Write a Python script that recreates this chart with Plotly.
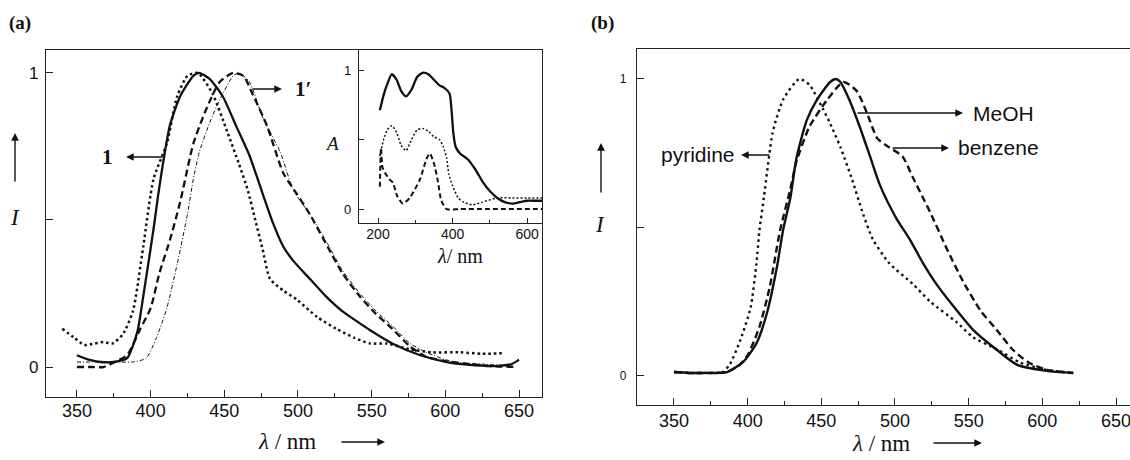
import plotly.graph_objects as go

# ---- panel (a): emission spectra, 1 and 1' ----
a_dot_x = [340, 348, 355, 362, 368, 374, 381, 388, 395, 402, 411, 418, 425, 432, 442, 452, 460, 466, 471, 476, 481, 490, 499, 513, 526, 538, 549, 560, 576, 591, 610, 625, 640]
a_dot_y = [0.13, 0.10, 0.075, 0.08, 0.085, 0.08, 0.11, 0.19, 0.41, 0.64, 0.76, 0.92, 0.99, 1.0, 0.93, 0.80, 0.69, 0.60, 0.50, 0.40, 0.30, 0.26, 0.23, 0.17, 0.13, 0.10, 0.08, 0.08, 0.06, 0.05, 0.05, 0.045, 0.047]

a_solid_x = [350, 358, 366, 375, 384, 391, 395, 402, 405, 408, 413, 420, 429, 433, 440, 449, 458, 467, 476, 483, 490, 497, 508, 519, 530, 540, 549, 564, 583, 601, 615, 632, 645, 650]
a_solid_y = [0.04, 0.025, 0.017, 0.017, 0.03, 0.12, 0.24, 0.47, 0.58, 0.68, 0.82, 0.92, 0.99, 1.0, 0.98, 0.92, 0.82, 0.72, 0.59, 0.49, 0.41, 0.36, 0.30, 0.24, 0.19, 0.155, 0.125, 0.08, 0.04, 0.017, 0.008, 0.003, 0.01, 0.025]

a_dash_x = [350, 360, 368, 377, 384, 393, 400, 406, 413, 420, 429, 438, 447, 456, 463, 469, 479, 490, 499, 508, 520, 530, 542, 553, 564, 576, 587, 600, 610, 632, 648]
a_dash_y = [0.0, 0.0, 0.0, 0.02, 0.04, 0.13, 0.20, 0.32, 0.43, 0.56, 0.76, 0.88, 0.97, 1.0, 0.99, 0.93, 0.82, 0.66, 0.59, 0.52, 0.41, 0.32, 0.24, 0.18, 0.13, 0.07, 0.035, 0.02, 0.013, 0.003, 0.0]

a_thin_x = [350, 360, 370, 380, 388, 397, 404, 411, 418, 425, 429, 433, 440, 447, 456, 460, 467, 476, 488, 497, 508, 520, 530, 542, 553, 564, 576, 587, 600, 610, 625, 640]
a_thin_y = [0.017, 0.017, 0.017, 0.017, 0.017, 0.03, 0.10, 0.20, 0.35, 0.52, 0.64, 0.73, 0.83, 0.91, 0.99, 1.0, 0.97, 0.85, 0.73, 0.60, 0.52, 0.42, 0.33, 0.25, 0.19, 0.14, 0.08, 0.05, 0.025, 0.015, 0.01, 0.005]

# ---- inset: absorption spectra ----
ins_solid_x = [205, 215, 225, 237, 250, 262, 275, 290, 305, 320, 335, 350, 365, 379, 392, 397, 402, 408, 420, 440, 460, 480, 500, 520, 540, 560, 580, 600, 620, 640]
ins_solid_y = [0.71, 0.82, 0.90, 0.97, 0.93, 0.85, 0.81, 0.86, 0.95, 0.98, 0.97, 0.93, 0.89, 0.87, 0.83, 0.72, 0.55, 0.45, 0.40, 0.36, 0.29, 0.20, 0.13, 0.08, 0.05, 0.04, 0.05, 0.06, 0.06, 0.06]

ins_dot_x = [205, 215, 225, 237, 250, 262, 275, 290, 305, 320, 335, 350, 365, 375, 384, 390, 400, 415, 430, 453, 480, 520, 560, 600, 640]
ins_dot_y = [0.38, 0.50, 0.57, 0.60, 0.55, 0.46, 0.42, 0.50, 0.57, 0.58, 0.56, 0.52, 0.50, 0.45, 0.37, 0.25, 0.17, 0.08, 0.05, 0.03, 0.05, 0.08, 0.08, 0.08, 0.08]

ins_dash_x = [205, 208, 212, 219, 232, 240, 252, 267, 285, 312, 330, 339, 350, 360, 370, 384, 420, 500, 640]
ins_dash_y = [0.16, 0.44, 0.30, 0.26, 0.21, 0.19, 0.09, 0.04, 0.08, 0.21, 0.36, 0.40, 0.33, 0.21, 0.06, 0.0, 0.0, 0.0, 0.0]

# ---- panel (b): solvents ----
b_pyr_x = [350, 360, 370, 383, 388, 395, 402, 406, 408, 411, 417, 424, 435, 442, 451, 456, 463, 471, 478, 485, 496, 512, 524, 542, 553, 569, 585, 603, 621]
b_pyr_y = [0.013, 0.01, 0.01, 0.013, 0.04, 0.12, 0.23, 0.38, 0.49, 0.60, 0.82, 0.93, 1.0, 0.98, 0.90, 0.85, 0.77, 0.66, 0.55, 0.46, 0.38, 0.31, 0.25, 0.18, 0.13, 0.09, 0.045, 0.02, 0.01]

b_meoh_x = [350, 360, 370, 386, 397, 406, 413, 420, 424, 429, 433, 440, 447, 456, 460, 463, 469, 476, 483, 490, 501, 510, 519, 528, 542, 553, 569, 583, 603, 621]
b_meoh_y = [0.013, 0.01, 0.01, 0.013, 0.047, 0.11, 0.21, 0.37, 0.49, 0.60, 0.73, 0.86, 0.93, 0.99, 1.0, 0.99, 0.93, 0.84, 0.74, 0.64, 0.53, 0.46, 0.38, 0.31, 0.22, 0.155, 0.088, 0.037, 0.017, 0.01]

b_benz_x = [350, 360, 370, 386, 394, 400, 408, 415, 422, 429, 433, 442, 454, 465, 474, 481, 488, 496, 505, 512, 519, 524, 535, 546, 558, 569, 580, 591, 603, 621]
b_benz_y = [0.013, 0.01, 0.01, 0.013, 0.035, 0.07, 0.165, 0.30, 0.49, 0.63, 0.72, 0.84, 0.93, 0.99, 0.96, 0.885, 0.80, 0.77, 0.74, 0.67, 0.60, 0.55, 0.43, 0.32, 0.22, 0.155, 0.088, 0.044, 0.02, 0.01]

W, H = 1130, 460
BLACK = "#111"
SANS = "Liberation Sans, Arial, sans-serif"
SERIF = "Liberation Serif, Times New Roman, serif"


def px(x):
    return x / W


def py(y):
    return 1 - y / H


fig = go.Figure()


def add(x, y, xa, ya, width, dash):
    fig.add_trace(go.Scatter(x=x, y=y, xaxis=xa, yaxis=ya, mode="lines",
                             line=dict(color=BLACK, width=width, dash=dash, shape="spline", smoothing=0.6),
                             hoverinfo="skip", showlegend=False))


add(a_thin_x, a_thin_y, "x", "y", 1, "4px,2px,1px,2px")
add(a_dot_x, a_dot_y, "x", "y", 2.5, "2.5px,3px")
add(a_dash_x, a_dash_y, "x", "y", 2.3, "7px,4px")
add(a_solid_x, a_solid_y, "x", "y", 2.3, "solid")

add(ins_dash_x, ins_dash_y, "x2", "y2", 2, "5px,3px")
add(ins_dot_x, ins_dot_y, "x2", "y2", 1.5, "2px,2px")
add(ins_solid_x, ins_solid_y, "x2", "y2", 2.3, "solid")

add(b_pyr_x, b_pyr_y, "x3", "y3", 2.4, "2.5px,3.5px")
add(b_benz_x, b_benz_y, "x3", "y3", 2.4, "7px,4px")
add(b_meoh_x, b_meoh_y, "x3", "y3", 2.4, "solid")

axline = dict(showline=True, linecolor="#222", linewidth=1.3, showgrid=False, zeroline=False,
              ticks="inside", tickcolor="#222", tickwidth=1.3)

fig.update_layout(
    width=W, height=H, margin=dict(l=0, r=0, t=0, b=0),
    paper_bgcolor="white", plot_bgcolor="white",
    xaxis=dict(axline, domain=[px(46), px(542)], range=[329, 665.6], anchor="y", mirror=True,
               tickvals=[350, 400, 450, 500, 550, 600, 650], ticklen=7, ticklabelstandoff=-3,
               minor=dict(dtick=25, tick0=0, ticks="inside", ticklen=4, tickcolor="#222"),
               tickfont=dict(family=SANS, size=18, color=BLACK)),
    yaxis=dict(axline, domain=[py(397), py(50)], range=[-0.102, 1.078], anchor="x", mirror=True,
               tickvals=[0, 0.5, 1], ticktext=["0", "", "1"], ticklen=7, ticklabelstandoff=3,
               tickfont=dict(family=SANS, size=17, color=BLACK)),
    xaxis2=dict(axline, domain=[px(359), px(542)], range=[149, 640], anchor="y2",
                tickvals=[200, 400, 600], ticklen=5, ticklabelstandoff=-2,
                minor=dict(dtick=100, tick0=0, ticks="inside", ticklen=3, tickcolor="#222"),
                tickfont=dict(family=SANS, size=14, color=BLACK)),
    yaxis2=dict(axline, domain=[py(223), py(50)], range=[-0.1, 1.144], anchor="x2",
                tickvals=[0, 0.5, 1], ticktext=["0", "", "1"], ticklen=5, ticklabelstandoff=4,
                tickfont=dict(family=SANS, size=13, color=BLACK)),
    xaxis3=dict(axline, domain=[px(637), 1.0], range=[324.9, 659.5], anchor="y3", mirror=True,
                tickvals=[350, 400, 450, 500, 550, 600, 650], ticklen=7, ticklabelstandoff=-1,
                ticklabeloverflow="allow",
                minor=dict(dtick=25, tick0=0, ticks="inside", ticklen=4, tickcolor="#222"),
                tickfont=dict(family=SANS, size=18, color=BLACK)),
    yaxis3=dict(axline, domain=[py(405), py(49)], range=[-0.098, 1.101], anchor="x3", mirror=False,
                tickvals=[0, 0.5, 1], ticktext=["0", "", "1"], ticklen=7, ticklabelstandoff=7,
                tickfont=dict(family=SANS, size=12, color=BLACK)),
)


def label(x, y, text, size, family=SERIF, xanchor="center"):
    fig.add_annotation(x=px(x), y=py(y), xref="paper", yref="paper", text=text, showarrow=False,
                       xanchor=xanchor, yanchor="middle", font=dict(family=family, size=size, color=BLACK))


def arrow(hx, hy, tx, ty):
    fig.add_annotation(x=px(hx), y=py(hy), xref="paper", yref="paper", text="",
                       showarrow=True, ax=tx - hx, ay=ty - hy, axref="pixel", ayref="pixel",
                       arrowhead=2, arrowsize=1.1, arrowwidth=1.4, arrowcolor=BLACK)


# panel (a) texts
label(20, 23, "<b>(a)</b>", 19)
label(15, 217, "<i>I</i>", 23)
arrow(15, 133, 15, 183)
label(287, 441, "<i>λ</i> / nm", 23)
arrow(385, 442, 340, 442)
label(107, 157, "<b>1</b>", 21)
arrow(126, 157, 164, 157)
label(303, 89, "<b>1′</b>", 21)
arrow(282, 89, 251, 89)
label(332, 143, "<i>A</i>", 19)
label(460, 256, "<i>λ</i>/ nm", 20)

# panel (b) texts
label(602, 23, "<b>(b)</b>", 19)
label(600, 225, "<i>I</i>", 23)
arrow(601, 143, 601, 194)
label(881, 443, "<i>λ</i> / nm", 23)
arrow(982, 443, 932, 443)
label(698, 155, "pyridine", 21, SANS)
arrow(741, 155, 771, 155)
label(1003, 113, "MeOH", 21, SANS)
arrow(963, 113, 856, 113)
label(998, 148, "benzene", 21, SANS)
arrow(949, 148, 891, 148)

fig.write_html("out.html", config={"displayModeBar": False},
               post_script="document.body.style.margin='0';document.body.style.overflow='hidden';")
